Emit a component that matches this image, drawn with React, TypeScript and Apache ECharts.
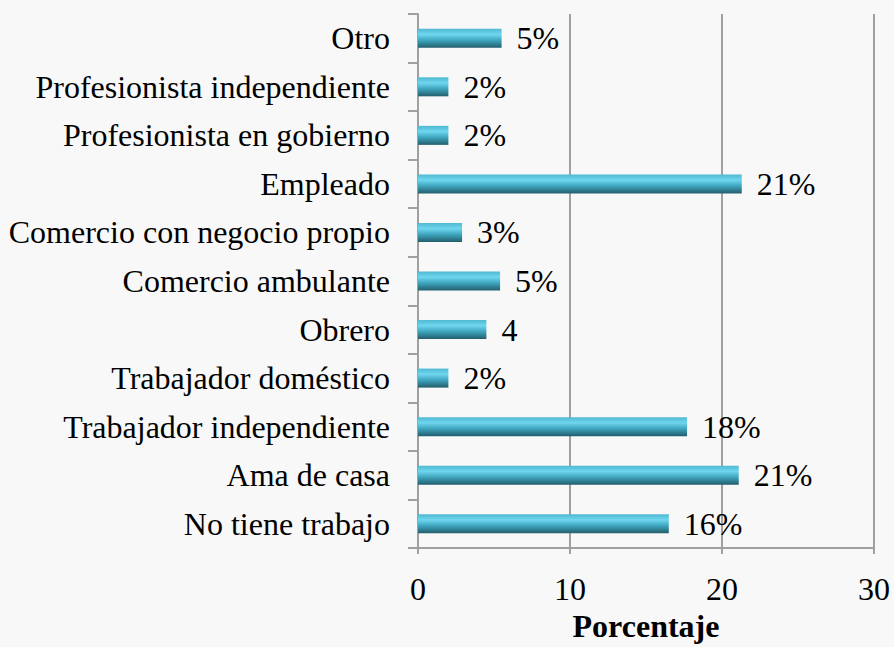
import React, { useEffect, useRef } from "react";
import * as echarts from "echarts";

const categories = [
  "Otro",
  "Profesionista independiente",
  "Profesionista en gobierno",
  "Empleado",
  "Comercio con negocio propio",
  "Comercio ambulante",
  "Obrero",
  "Trabajador doméstico",
  "Trabajador independiente",
  "Ama de casa",
  "No tiene trabajo",
];
const values = [5.5, 2.0, 2.0, 21.3, 2.9, 5.4, 4.5, 2.0, 17.7, 21.1, 16.5];
const valueLabels = ["5%", "2%", "2%", "21%", "3%", "5%", "4", "2%", "18%", "21%", "16%"];
const xTicks = [0, 10, 20, 30];
const axisTitle = "Porcentaje";

export default function App() {
  const ref = useRef<HTMLDivElement>(null);
  useEffect(() => {
    if (!ref.current) return;
    const chart = echarts.init(ref.current, null, { renderer: "svg", width: 894, height: 647 });
    const font = "'Liberation Serif', 'Times New Roman', serif";
    chart.setOption({
      animation: false,
      backgroundColor: "#f8f8f8",
      textStyle: { fontFamily: font },
      grid: { left: 418, right: 20, top: 14, bottom: 89, containLabel: false },
      xAxis: {
        type: "value",
        min: xTicks[0],
        max: xTicks[xTicks.length - 1],
        interval: 10,
        name: axisTitle,
        nameLocation: "middle",
        nameGap: 62,
        nameTextStyle: { fontFamily: font, fontSize: 32, fontWeight: "bold", color: "#000" },
        axisLine: { show: true, lineStyle: { color: "#a0a0a0", width: 2 } },
        axisTick: { show: true, length: 6, lineStyle: { color: "#a0a0a0", width: 2 } },
        axisLabel: { fontFamily: font, fontSize: 32, color: "#000", margin: 25 },
        splitLine: { show: true, lineStyle: { color: "#a0a0a0", width: 2 } },
      },
      yAxis: {
        type: "category",
        data: categories,
        inverse: true,
        axisLine: { show: true, lineStyle: { color: "#a0a0a0", width: 2 } },
        axisTick: { show: true, length: 10, lineStyle: { color: "#a0a0a0", width: 2 } },
        axisLabel: { fontFamily: font, fontSize: 32, color: "#000", margin: 28 },
      },
      series: [
        {
          type: "bar",
          data: values,
          barWidth: 19,
          itemStyle: {
            color: new echarts.graphic.LinearGradient(0, 0, 0, 1, [
              { offset: 0, color: "#4fb8d2" },
              { offset: 0.3, color: "#70d6ef" },
              { offset: 0.6, color: "#3fa6bf" },
              { offset: 1, color: "#235e6c" },
            ]),
          },
          label: {
            show: true,
            position: "right",
            distance: 15,
            fontFamily: font,
            fontSize: 32,
            color: "#000",
            formatter: (p: any) => valueLabels[p.dataIndex],
          },
        },
      ],
    });
    return () => chart.dispose();
  }, []);
  return (
    <div
      ref={ref}
      style={{ position: "absolute", left: 0, top: 0, width: 894, height: 647 }}
    />
  );
}
